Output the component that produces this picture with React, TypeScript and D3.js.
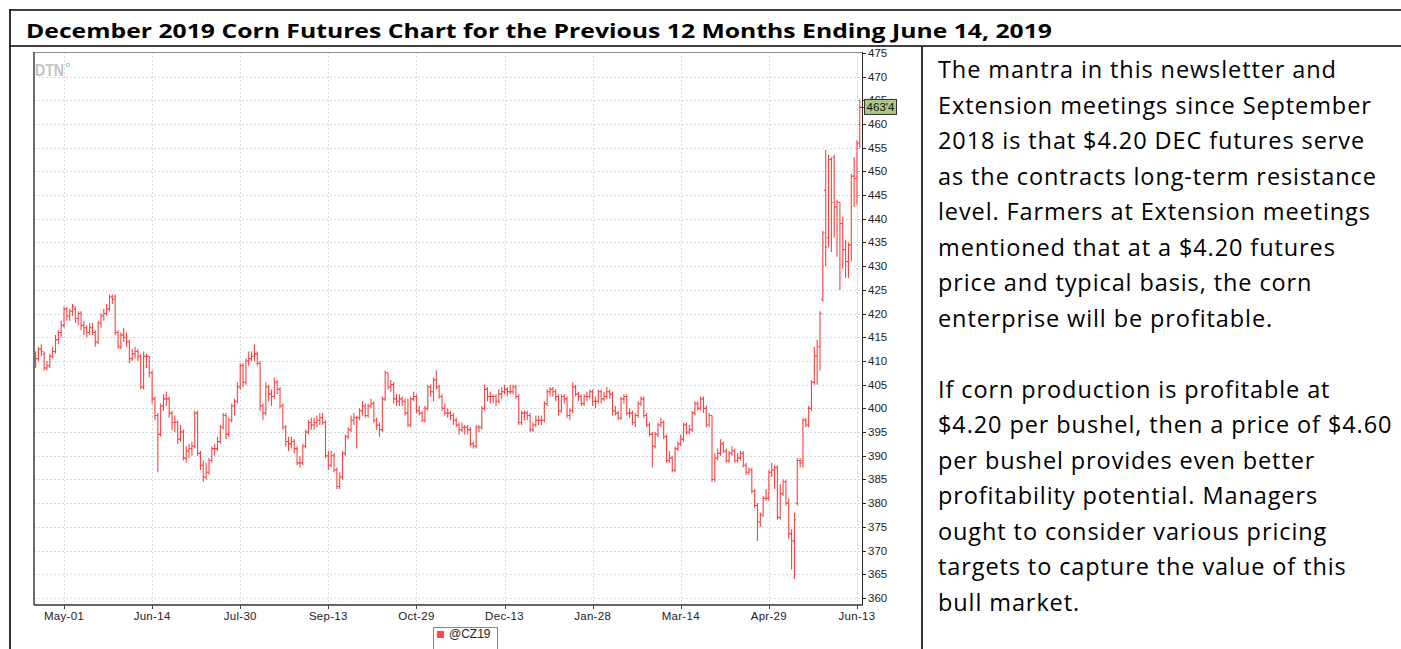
import React, { useEffect, useRef } from "react";
import * as d3 from "d3";

const title =
  "December 2019 Corn Futures Chart for the Previous 12 Months Ending June 14, 2019";

const noteLines = [
  "The mantra in this newsletter and",
  "Extension meetings since September",
  "2018 is that $4.20 DEC futures serve",
  "as the contracts long-term resistance",
  "level. Farmers at Extension meetings",
  "mentioned that at a $4.20 futures",
  "price and typical basis, the corn",
  "enterprise will be profitable.",
  "",
  "If corn production is profitable at",
  "$4.20 per bushel, then a price of $4.60",
  "per bushel provides even better",
  "profitability potential. Managers",
  "ought to consider various pricing",
  "targets to capture the value of this",
  "bull market.",
];

const tickLabels = ["May-01", "Jun-14", "Jul-30", "Sep-13", "Oct-29", "Dec-13", "Jan-28", "Mar-14", "Apr-29", "Jun-13"];
// bar index of each date label
const tickBars = [10, 41, 72, 103, 134, 165, 196, 227, 258, 289];

const priceTicks = [360, 365, 370, 375, 380, 385, 390, 395, 400, 405, 410, 415, 420, 425, 430, 435, 440, 445, 450, 455, 460, 465, 470, 475];

const lastPrice = "463'4";
const lastClose = 463.5;
const symbol = "@CZ19";

// daily open, high, low, close in cents/bu
const bars: number[][] = [
  [411, 412, 408.5, 410.5], [410.5, 413, 410, 412.5], [412.5, 413.5, 411, 412], [411.5, 412, 408, 408.5], [408.5, 410, 408, 409],
  [409, 411.5, 408.5, 411], [411, 413, 410.5, 412], [412, 415.5, 411.5, 414.5], [414.5, 416.5, 413.5, 416], [416, 418.5, 415, 417.5],
  [417.5, 421.5, 417, 421], [421, 421.5, 418.5, 419.5], [419.5, 421, 418.5, 420.5], [420.5, 422, 419.5, 421.5], [421, 421.5, 418, 419],
  [419, 420.5, 417.5, 420], [420, 420.5, 416.5, 417.5], [417.5, 418.5, 415.5, 417], [417, 417.5, 415, 416], [416, 418, 415.5, 417],
  [417, 418, 415.5, 416], [416, 416.5, 413, 414], [414, 418.5, 413.5, 418], [418, 420, 417, 419.5], [419.5, 421, 418.5, 420],
  [420, 422, 419.5, 421], [421, 424, 420.5, 423.5], [423.5, 424, 422, 423], [423.5, 424, 415.5, 416], [416, 416.5, 412.5, 413],
  [413, 416, 412.5, 415.5], [415.5, 417, 414, 415], [415, 416, 413, 414], [414, 414.5, 409.5, 410.5], [410.5, 412.5, 410, 411.5],
  [411.5, 413, 410.5, 412], [412, 412.5, 410, 411], [411, 411.5, 404, 404.5], [404.5, 412, 404, 411], [411, 411.5, 408.5, 411],
  [411, 411, 406.5, 407.5], [407.5, 408, 401, 402], [402, 402.5, 397.5, 398.5], [398.5, 399, 386.5, 394.5], [394.5, 401, 394, 400.5],
  [400.5, 403, 399.5, 402], [402, 403.5, 400.5, 402], [402, 402.5, 398, 399], [399, 399.5, 395.5, 397], [397, 398.5, 395, 397],
  [397, 397.5, 392.5, 393.5], [393.5, 396.5, 393, 395], [395, 395.5, 389, 389.5], [389.5, 392, 388.5, 391], [391, 392.5, 389.5, 391.5],
  [391.5, 393, 390, 392], [392, 399.5, 391.5, 399], [399, 399.5, 390, 390.5], [390.5, 391, 387, 388], [388, 389, 384.5, 385.5],
  [385.5, 388.5, 385, 386.5], [386.5, 389.5, 386, 389], [389, 392, 388.5, 391.5], [391.5, 392.5, 390, 391.5], [391.5, 394, 391, 393],
  [393, 396.5, 392.5, 396], [396, 399, 395.5, 398.5], [398.5, 399, 393.5, 394.5], [394.5, 398, 394, 397.5], [397.5, 401, 397, 400.5],
  [400.5, 402, 398.5, 401.5], [401.5, 405.5, 401, 404.5], [404.5, 409.5, 404, 409], [409, 409.5, 404.5, 405.5], [405.5, 410.5, 405, 410],
  [410, 412, 409, 410.5], [410.5, 412, 410, 411], [411, 413.5, 410, 411.5], [411.5, 412, 409, 409.5], [409.5, 410, 399.5, 400.5],
  [400.5, 401, 397.5, 399], [399, 405.5, 398.5, 404.5], [404.5, 405, 401.5, 403], [403, 404, 400.5, 402.5], [402.5, 406.5, 402, 405.5],
  [405.5, 406, 403, 404], [404, 404.5, 400, 400.5], [400.5, 401, 395.5, 396], [396, 396.5, 392, 393], [393, 394, 391, 392.5],
  [392.5, 394, 391.5, 393], [393, 393.5, 390.5, 391.5], [391.5, 392, 388, 388.5], [388.5, 390, 387.5, 388.5], [388.5, 392.5, 388, 392],
  [392, 395.5, 391.5, 395], [395, 397.5, 394.5, 397], [397, 398, 395.5, 396.5], [396.5, 398, 395.5, 397], [397, 398.5, 396, 397.5],
  [397.5, 399, 396.5, 398], [398, 399, 396.5, 397], [397, 397.5, 389.5, 390], [390, 391, 387, 388], [388, 391, 387.5, 390],
  [390, 390.5, 386.5, 387], [387, 387.5, 383, 383.5], [383.5, 386.5, 383, 385.5], [385.5, 391, 385, 390.5], [390.5, 394.5, 390, 394],
  [394, 396, 393.5, 395.5], [395.5, 398.5, 395, 397.5], [397.5, 399, 396.5, 398], [398, 398.5, 391.5, 398], [398, 400, 397.5, 399.5],
  [399.5, 401.5, 398.5, 400.5], [400.5, 401, 398, 398.5], [398.5, 401, 398, 400.5], [400.5, 402, 400, 401], [401, 401.5, 397, 397.5],
  [397.5, 398, 395.5, 396.5], [396.5, 397, 394, 395.5], [395.5, 402.5, 395, 402], [402, 408, 401.5, 407.5], [407.5, 407.5, 404, 404.5],
  [404.5, 406, 403.5, 405], [405, 405.5, 401, 402], [402, 403, 400.5, 401.5], [401.5, 403, 400.5, 402], [402, 402.5, 400.5, 401.5],
  [401.5, 402, 398.5, 399], [399, 402, 396, 396.5], [396.5, 402.5, 396, 402], [402, 403.5, 401.5, 402.5], [402.5, 403, 399, 399.5],
  [399.5, 400.5, 398.5, 399], [399, 399.5, 397, 397.5], [397.5, 400.5, 397, 400], [400, 405, 399.5, 404.5], [404.5, 405, 402.5, 403.5],
  [403.5, 406.5, 401.5, 406], [406, 408, 404, 404.5], [404.5, 405, 402, 402.5], [402.5, 403, 399.5, 400], [400, 401, 398.5, 399],
  [399, 400, 398, 399], [399, 399.5, 397.5, 398.5], [398.5, 399, 396.5, 397.5], [397.5, 398, 396, 396.5], [396.5, 397, 394.5, 395.5],
  [395.5, 397, 395, 396], [396, 396.5, 394.5, 396], [396, 396.5, 394.5, 395.5], [395.5, 396, 392, 392.5], [392.5, 393, 391.5, 392],
  [392, 396.5, 391.5, 396], [396, 396.5, 395, 396], [396, 400.5, 395.5, 400], [400, 405, 399.5, 404], [404, 404.5, 401.5, 402.5],
  [402.5, 403.5, 401, 402.5], [402.5, 403, 401, 402.5], [402.5, 403, 400.5, 401.5], [401.5, 404, 401, 403], [403, 404.5, 402, 403.5],
  [403.5, 405, 403, 404], [404, 404.5, 402.5, 403.5], [403.5, 405, 403, 403.5], [403.5, 405, 403, 404.5], [404.5, 405, 402, 402.5],
  [402.5, 403, 396.5, 397], [397, 399.5, 396.5, 399], [399, 399.5, 397.5, 399], [399, 399.5, 397.5, 398.5], [398.5, 399, 395, 395.5],
  [395.5, 397, 395, 396.5], [396.5, 398.5, 396, 397.5], [397.5, 398.5, 396.5, 397.5], [397.5, 398.5, 396.5, 397.5], [397.5, 401.5, 397, 401],
  [401, 404, 400.5, 403.5], [403.5, 404.5, 402.5, 404], [404, 404.5, 402.5, 403.5], [403.5, 404, 401.5, 402.5], [402.5, 403, 398.5, 399.5],
  [399.5, 403, 399, 402.5], [402.5, 403, 401, 402], [402, 402.5, 398, 398.5], [398.5, 400, 397.5, 399.5], [399.5, 405.5, 399, 404.5],
  [404.5, 405, 402.5, 403], [403, 403.5, 401.5, 402.5], [402.5, 403, 400.5, 401], [401, 403, 400.5, 402.5], [402.5, 403.5, 401.5, 402.5],
  [402.5, 404, 402, 403.5], [403.5, 404, 400.5, 401.5], [401.5, 402.5, 400, 401.5], [401.5, 404, 401, 403.5], [403.5, 404, 401, 402],
  [402, 403.5, 401.5, 402.5], [402.5, 404.5, 402, 403.5], [403.5, 404, 402, 403], [403, 403.5, 398.5, 399.5], [399.5, 400.5, 398.5, 399],
  [399, 399.5, 397.5, 398], [398, 402.5, 397.5, 402], [402, 403, 401, 402.5], [402.5, 403, 398.5, 399], [399, 400, 398, 399],
  [399, 399.5, 396.5, 397], [397, 399, 396, 398.5], [398.5, 401.5, 398, 401], [401, 402.5, 400.5, 402], [402, 402.5, 398, 398.5],
  [398.5, 399, 396, 396.5], [396.5, 397, 394, 394.5], [394.5, 395, 387.5, 392], [392, 395, 391.5, 394.5], [394.5, 397, 394, 396.5],
  [396.5, 398, 396, 397], [397, 397.5, 393.5, 394], [394, 394.5, 388.5, 389], [389, 391, 388.5, 389.5], [389.5, 390, 386.5, 387],
  [387, 392, 386.5, 391.5], [391.5, 393, 391, 392.5], [392.5, 394.5, 392, 393.5], [393.5, 397, 393, 396.5], [396.5, 397, 394.5, 395],
  [395, 396.5, 394.5, 395.5], [395.5, 399.5, 395, 399], [399, 401.5, 398.5, 401], [401, 401.5, 399.5, 400], [400, 402.5, 399.5, 402],
  [402, 402.5, 399, 400], [400, 400.5, 396, 396.5], [396.5, 399, 396, 398.5], [398.5, 398.5, 384.5, 385], [385, 390.5, 384.5, 389.5],
  [389.5, 391.5, 389, 390.5], [390.5, 393.5, 390, 392.5], [392.5, 393, 390.5, 391], [391, 391.5, 388.5, 389], [389, 391, 388.5, 390.5],
  [390.5, 392, 390, 391], [391, 391.5, 388.5, 389], [389, 390.5, 388.5, 389.5], [389.5, 391, 389, 390.5], [390.5, 391, 387.5, 388],
  [388, 388.5, 386, 386.5], [386.5, 387.5, 386, 387], [387, 387.5, 382, 382.5], [382.5, 383, 379, 379.5], [379.5, 380, 372, 376],
  [376, 378, 375, 377.5], [377.5, 381.5, 377, 381], [381, 383, 380.5, 381], [381, 387, 380.5, 386.5], [386.5, 388.5, 385.5, 387],
  [387, 388, 383, 387.5], [387.5, 388, 376.5, 377], [377, 384, 376.5, 382], [382, 385, 381.5, 384.5], [384.5, 385, 379.5, 380],
  [380, 381, 372.5, 373.5], [373.5, 374.5, 366, 372], [372, 378, 364, 376.5], [380, 389.5, 379.5, 389], [389, 389.5, 387.5, 388.5],
  [389, 398, 387.5, 397.5], [397.5, 398, 396, 396.5], [396.5, 400.5, 396, 400], [400, 406, 399.5, 405.5], [405.5, 413, 405, 411],
  [411, 414.5, 405, 413], [413, 420.5, 408, 420], [423, 437.5, 422.5, 437], [446, 454.5, 430, 434], [436, 453.5, 434, 452.5],
  [452.5, 453, 433, 443.5], [453, 453.5, 436, 442.5], [442.5, 444, 432, 443.5], [443.5, 443.5, 425, 439], [439, 440.5, 429.5, 433.5],
  [433.5, 435.5, 427.5, 431], [431, 435, 427.5, 434.5], [434.5, 449.5, 431, 449], [449, 453, 442.5, 448.5], [448.5, 456.5, 443, 456],
  [456, 465.2, 455, 463.5],
];

const W = 1401;
const H = 649;
const plot = { left: 34, right: 862, top: 52, bottom: 605 };

const App = () => {
  const ref = useRef<SVGSVGElement>(null);

  useEffect(() => {
    const svg = d3.select(ref.current);
    svg.selectAll("*").remove();

    const x = d3.scaleLinear().domain([0, bars.length - 1]).range([35.6, 859.8]);
    const y = d3.scaleLinear().domain([358.5, 475.2]).range([plot.bottom, plot.top]);
    const crisp = (v: number) => Math.round(v) + 0.5;

    // table frame
    const frame = svg.append("g").attr("stroke", "#000").attr("stroke-width", 1.6);
    frame.append("line").attr("x1", 9).attr("x2", W).attr("y1", 10).attr("y2", 10);
    frame.append("line").attr("x1", 9).attr("x2", W).attr("y1", 46).attr("y2", 46);
    frame.append("line").attr("x1", 10).attr("x2", 10).attr("y1", 9).attr("y2", H);
    frame.append("line").attr("x1", 922).attr("x2", 922).attr("y1", 46).attr("y2", H);

    svg
      .append("text")
      .attr("x", 26)
      .attr("y", 38)
      .attr("font-family", "'Open Sans', sans-serif")
      .attr("font-weight", 700)
      .attr("font-size", 19.5)
      .attr("textLength", 1026)
      .attr("lengthAdjust", "spacingAndGlyphs")
      .attr("fill", "#000")
      .text(title);

    // right hand notes
    svg
      .append("g")
      .attr("font-family", "'Open Sans', sans-serif")
      .attr("font-size", 23.5)
      .attr("letter-spacing", 0.9)
      .attr("fill", "#000")
      .selectAll("text")
      .data(noteLines)
      .enter()
      .append("text")
      .attr("x", 938)
      .attr("y", (d, i) => 78 + i * 35.5)
      .text((d) => d);

    // grid
    const grid = svg.append("g").attr("stroke", "#d9d9d9").attr("stroke-dasharray", "2,2");
    grid
      .selectAll(".hgrid")
      .data(priceTicks.filter((p) => p < 475))
      .enter()
      .append("line")
      .attr("x1", plot.left)
      .attr("x2", plot.right)
      .attr("y1", (d) => crisp(y(d)))
      .attr("y2", (d) => crisp(y(d)));
    grid
      .selectAll(".vgrid")
      .data(tickBars)
      .enter()
      .append("line")
      .attr("x1", (d) => crisp(x(d)))
      .attr("x2", (d) => crisp(x(d)))
      .attr("y1", plot.top)
      .attr("y2", plot.bottom);

    // DTN logo
    svg
      .append("text")
      .attr("x", 35)
      .attr("y", 75.5)
      .attr("font-family", "'Liberation Sans', Arial, sans-serif")
      .attr("font-weight", 700)
      .attr("font-size", 16)
      .attr("textLength", 29)
      .attr("lengthAdjust", "spacingAndGlyphs")
      .attr("fill", "#c4c4c4")
      .text("DTN");
    svg
      .append("circle")
      .attr("cx", 68)
      .attr("cy", 65)
      .attr("r", 1.8)
      .attr("fill", "none")
      .attr("stroke", "#8fcfd8")
      .attr("stroke-width", 1);

    // OHLC bars
    svg
      .append("g")
      .attr("stroke", "#ff4040")
      .attr("stroke-width", 1.1)
      .attr("fill", "none")
      .selectAll("path")
      .data(bars)
      .enter()
      .append("path")
      .attr("d", (d, i) => {
        const cx = x(i);
        return `M${cx},${y(d[1])}V${y(d[2])}M${cx - 1.6},${y(d[0])}H${cx}M${cx},${y(d[3])}H${cx + 1.6}`;
      });

    // plot border
    svg.append("line").attr("x1", plot.left).attr("x2", plot.right).attr("y1", plot.top + 0.5).attr("y2", plot.top + 0.5).attr("stroke", "#8c8c8c");
    svg.append("line").attr("x1", plot.left).attr("x2", plot.left).attr("y1", plot.top).attr("y2", plot.bottom).attr("stroke", "#6e6e6e").attr("stroke-width", 2);
    svg.append("line").attr("x1", plot.left).attr("x2", plot.right).attr("y1", plot.bottom).attr("y2", plot.bottom).attr("stroke", "#333").attr("stroke-width", 1.5);
    svg.append("line").attr("x1", plot.right + 0.5).attr("x2", plot.right + 0.5).attr("y1", plot.top).attr("y2", plot.bottom + 0.5).attr("stroke", "#222");

    // price axis
    const yAxis = svg.append("g");
    yAxis
      .selectAll("line")
      .data(priceTicks)
      .enter()
      .append("line")
      .attr("x1", plot.right)
      .attr("x2", plot.right + 4)
      .attr("y1", (d) => crisp(y(d)))
      .attr("y2", (d) => crisp(y(d)))
      .attr("stroke", "#222");
    yAxis
      .selectAll("text")
      .data(priceTicks)
      .enter()
      .append("text")
      .attr("x", plot.right + 6)
      .attr("y", (d) => y(d) + 4)
      .attr("font-family", "'Liberation Sans', Arial, sans-serif")
      .attr("font-size", 11.5)
      .attr("fill", "#222")
      .text((d) => d);

    // date axis
    const xAxis = svg.append("g");
    xAxis
      .selectAll("line")
      .data(tickBars)
      .enter()
      .append("line")
      .attr("x1", (d) => crisp(x(d)))
      .attr("x2", (d) => crisp(x(d)))
      .attr("y1", plot.bottom)
      .attr("y2", plot.bottom + 4)
      .attr("stroke", "#444");
    xAxis
      .selectAll("text")
      .data(tickBars)
      .enter()
      .append("text")
      .attr("x", (d) => x(d))
      .attr("y", 620)
      .attr("text-anchor", "middle")
      .attr("font-family", "'Liberation Sans', Arial, sans-serif")
      .attr("font-size", 11.5)
      .attr("letter-spacing", 0.3)
      .attr("fill", "#222")
      .text((d, i) => tickLabels[i]);

    // last price tag
    const py = y(lastClose);
    svg.append("line").attr("x1", x(bars.length - 1)).attr("x2", 864).attr("y1", py).attr("y2", py).attr("stroke", "#333");
    svg
      .append("rect")
      .attr("x", 864.5)
      .attr("y", py - 8)
      .attr("width", 32)
      .attr("height", 15)
      .attr("fill", "#a9c982")
      .attr("stroke", "#333");
    svg
      .append("text")
      .attr("x", 880.5)
      .attr("y", py + 4)
      .attr("text-anchor", "middle")
      .attr("font-family", "'Liberation Sans', Arial, sans-serif")
      .attr("font-size", 11.5)
      .attr("fill", "#111")
      .text(lastPrice);

    // legend
    const legend = svg.append("g");
    legend.append("rect").attr("x", 433.5).attr("y", 627.5).attr("width", 64).attr("height", 30).attr("fill", "#fff").attr("stroke", "#888");
    legend.append("rect").attr("x", 437).attr("y", 631).attr("width", 7).attr("height", 7).attr("fill", "#ff4848");
    legend
      .append("text")
      .attr("x", 449)
      .attr("y", 638)
      .attr("font-family", "'Liberation Sans', Arial, sans-serif")
      .attr("font-size", 12)
      .attr("fill", "#222")
      .text(symbol);
  }, []);

  return (
    <svg
      ref={ref}
      width={W}
      height={H}
      style={{ position: "absolute", left: 0, top: 0, background: "#fff" }}
    ></svg>
  );
};

export default App;
